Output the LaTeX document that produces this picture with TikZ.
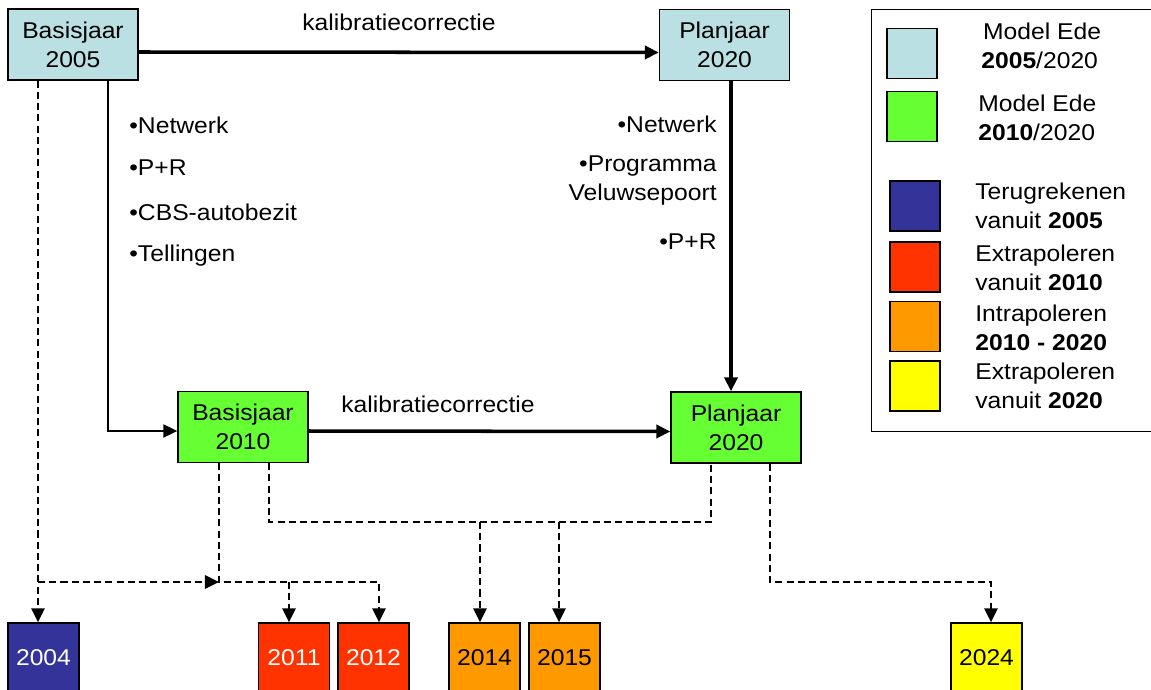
\documentclass[tikz,border=0pt]{standalone}
\usepackage{fontspec}
\setmainfont{Liberation Sans}[FakeStretch=1.08]
\usetikzlibrary{arrows.meta,positioning,shapes}

\definecolor{modelblue}{HTML}{BBE0E3}
\definecolor{modelgreen}{HTML}{66FF33}
\definecolor{backblue}{HTML}{333399}
\definecolor{extrared}{HTML}{FF3300}
\definecolor{intraorange}{HTML}{FF9900}
\definecolor{extrayellow}{HTML}{FFFF00}

\begin{document}
\begin{tikzpicture}[x=0.02cm, y=-0.02cm, font=\fontsize{13}{16.5}\selectfont]
    \tikzstyle{model} = [rectangle, draw, line width=0.8pt, align=center, minimum width=2.6cm, minimum height=1.42cm, inner sep=0pt]
    \tikzstyle{year} = [rectangle, draw, line width=0.8pt, minimum width=1.42cm, minimum height=1.4cm, inner sep=0pt]
    \tikzstyle{swatch} = [rectangle, draw, line width=1.1pt, minimum size=1cm, inner sep=0pt]
    \tikzstyle{legtext} = [anchor=west, align=left, inner sep=0pt]
    \tikzstyle{arrow} = [line width=2pt, -{Triangle[length=8pt,width=7.5pt]}]
    \tikzstyle{thinarrow} = [line width=0.9pt, -{Triangle[length=8pt,width=7.5pt]}]
    \tikzstyle{dashline} = [line width=1.4pt, dash pattern=on 4pt off 2.4pt]
    \tikzstyle{dasharrow} = [dashline, -{Triangle[length=8pt,width=7.5pt]}]

    \useasboundingbox (0,0) rectangle (1151,689);

    % model runs
    \node [model, fill=modelblue] (b2005) at (73,44.5) {Basisjaar\\2005};
    \node [model, fill=modelblue] (p2020a) at (724.5,45) {Planjaar\\2020};
    \node [model, fill=modelgreen] (b2010) at (243,427) {Basisjaar\\2010};
    \node [model, fill=modelgreen] (p2020b) at (736,427.5) {Planjaar\\2020};

    % year boxes
    \node [year, fill=backblue, text=white] (y2004) at (43.5,658) {2004};
    \node [year, fill=extrared, text=white] (y2011) at (294,658) {2011};
    \node [year, fill=extrared, text=white] (y2012) at (373.5,658) {2012};
    \node [year, fill=intraorange] (y2014) at (484.5,658) {2014};
    \node [year, fill=intraorange] (y2015) at (564.5,658) {2015};
    \node [year, fill=extrayellow] (y2024) at (986.5,658) {2024};

    % texts
    \node (kal1) at (399,22) {kalibratiecorrectie};
    \node (kal2) at (438,404) {kalibratiecorrectie};
    \node [anchor=west, inner sep=0pt] (l1) at (129,125) {•Netwerk};
    \node [anchor=west, inner sep=0pt] (l2) at (129,168) {•P+R};
    \node [anchor=west, inner sep=0pt] (l3) at (129,212) {•CBS-autobezit};
    \node [anchor=west, inner sep=0pt] (l4) at (129,256) {•Tellingen};
    \node [anchor=east, inner sep=0pt] (r1) at (717,124) {•Netwerk};
    \node [anchor=east, inner sep=0pt, align=right] (r2) at (717,181) {•Programma\\Veluwsepoort};
    \node [anchor=east, inner sep=0pt] (r3) at (717,242) {•P+R};

    % junctions
    \coordinate (jl) at (108,0);
    \coordinate (jv) at (731,0);
    \coordinate (j2004) at (38,582);
    \coordinate (j2010) at (219,582);
    \coordinate (j2011) at (289,582);
    \coordinate (j2012) at (379,582);
    \coordinate (jmid) at (269,522);
    \coordinate (j2014) at (480,522);
    \coordinate (j2015) at (559,522);
    \coordinate (jplan) at (711,522);
    \coordinate (j2024) at (770,582);
    \coordinate (k2024) at (991,582);

    % solid connectors
    \draw [arrow] ([yshift=-1.5mm]b2005.east) -- ([yshift=-1.5mm]p2020a.west);
    \draw [arrow] (p2020a.south -| jv) -- (p2020b.north -| jv);
    \draw [thinarrow] (b2005.south -| jl) |- ([yshift=-0.8mm]b2010.west);
    \draw [arrow] ([yshift=-0.8mm]b2010.east) -- ([yshift=-0.8mm]p2020b.west);

    % dashed connectors
    \draw [dasharrow] (b2005.south -| j2004) -- (y2004.north -| j2004);
    \draw [dasharrow] (j2004) -- (j2010);
    \draw [dasharrow] (b2010.south -| j2010) -- (j2010) -| (y2012.north -| j2012);
    \draw [dasharrow] (j2011) -- (y2011.north -| j2011);
    \draw [dashline] (b2010.south -| jmid) -- (jmid) -- (jplan) -- (p2020b.south -| jplan);
    \draw [dasharrow] (j2014) -- (y2014.north -| j2014);
    \draw [dasharrow] (j2015) -- (y2015.north -| j2015);
    \draw [dasharrow] (p2020b.south -| j2024) -- (j2024) -- (k2024) -- (y2024.north -| k2024);

    % legend
    \node [draw, line width=0.8pt, anchor=north west, minimum width=5.9cm, minimum height=8.44cm, inner sep=0pt] (legend) at (871,9) {};
    \node [swatch, fill=modelblue] (s1) at (912,53.5) {};
    \node [swatch, fill=modelgreen] (s2) at (912,116.5) {};
    \node [swatch, fill=backblue] (s3) at (915,206) {};
    \node [swatch, fill=extrared] (s4) at (915,267) {};
    \node [swatch, fill=intraorange] (s5) at (915,326.5) {};
    \node [swatch, fill=extrayellow] (s6) at (915,386) {};
    \node [legtext] (t1) at (981,46) {\hspace*{1pt}Model Ede\\\textbf{2005}/2020};
    \node [legtext] (t2) at (978,118) {Model Ede\\\textbf{2010}/2020};
    \node [legtext] (t3) at (975,206) {Terugrekenen\\vanuit \textbf{2005}};
    \node [legtext] (t4) at (975,268) {Extrapoleren\\vanuit \textbf{2010}};
    \node [legtext] (t5) at (975,328) {Intrapoleren\\\textbf{2010 - 2020}};
    \node [legtext] (t6) at (975,386) {Extrapoleren\\vanuit \textbf{2020}};
\end{tikzpicture}
\end{document}
